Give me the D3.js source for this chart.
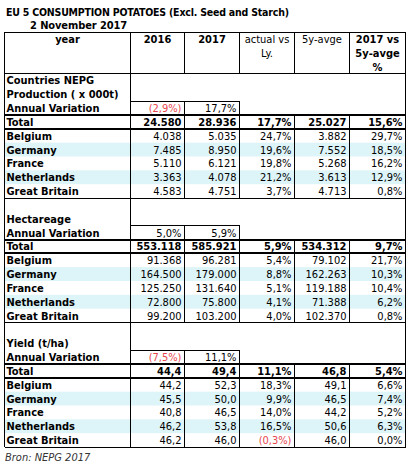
<!DOCTYPE html>
<html><head><meta charset="utf-8">
<script src="https://cdn.jsdelivr.net/npm/d3@7"></script>
<style>
html,body{margin:0;padding:0;background:#fff;}
svg{display:block;}
text{font-family:"DejaVu Sans Condensed","DejaVu Sans",sans-serif;}
</style></head>
<body>
<script>
// ---------- DATA ----------
const title = "EU 5 CONSUMPTION POTATOES (Excl. Seed and Starch)";
const subtitle = "2 November 2017";
const source = "Bron: NEPG 2017";
const headers = [["year"], ["2016"], ["2017"], ["actual vs", "Ly."], ["5y-avge"], ["2017 vs", "5y-avge", "%"]];
const headerBold = [true, true, true, false, false, true];
const countries = ["Belgium", "Germany", "France", "Netherlands", "Great Britain"];

const prodLabels = ["Countries NEPG", "Production ( x 000t)", "Annual Variation"];
const prodAnnual = [-2.9, 17.7];
const prodTotal = [24580, 28936, 17.7, 25027, 15.6];
const prod2016 = [4038, 7485, 5110, 3363, 4583];
const prod2017 = [5035, 8950, 6121, 4078, 4751];
const prodVsLy = [24.7, 19.6, 19.8, 21.2, 3.7];
const prod5y = [3882, 7552, 5268, 3613, 4713];
const prodVs5y = [29.7, 18.5, 16.2, 12.9, 0.8];

const haLabels = ["", "Hectareage", "Annual Variation"];
const haAnnual = [5.0, 5.9];
const haTotal = [553118, 585921, 5.9, 534312, 9.7];
const ha2016 = [91368, 164500, 125250, 72800, 99200];
const ha2017 = [96281, 179000, 131640, 75800, 103200];
const haVsLy = [5.4, 8.8, 5.1, 4.1, 4.0];
const ha5y = [79102, 162263, 119188, 71388, 102370];
const haVs5y = [21.7, 10.3, 10.4, 6.2, 0.8];

const yieldLabels = ["", "Yield (t/ha)", "Annual Variation"];
const yieldAnnual = [-7.5, 11.1];
const yieldTotal = [44.4, 49.4, 11.1, 46.8, 5.4];
const yield2016 = [44.2, 45.5, 40.8, 46.2, 46.2];
const yield2017 = [52.3, 50.0, 46.5, 53.8, 46.0];
const yieldVsLy = [18.3, 9.9, 14.0, 16.5, -0.3];
const yield5y = [49.1, 46.5, 44.2, 50.6, 46.0];
const yieldVs5y = [6.6, 7.4, 5.2, 6.3, 0.0];

const bandedCountries = ["Germany", "Netherlands"];

// ---------- FORMAT ----------
const loc = d3.formatLocale({decimal: ",", thousands: ".", grouping: [3], currency: ["", ""]});
const fInt = loc.format(",.0f");
const fDec = loc.format(".1f");
const fPct = v => v < 0 ? "(" + fDec(-v) + "%)" : fDec(v) + "%";

// ---------- BUILD SECTIONS ----------
function section(labels, annual, total, c16, c17, vsLy, c5y, vs5y, numFmt) {
  return {labels, annual, total, rows: countries.map((c, i) => ({name: c, vals: [c16[i], c17[i], vsLy[i], c5y[i], vs5y[i]]})), numFmt};
}
const sections = [
  section(prodLabels, prodAnnual, prodTotal, prod2016, prod2017, prodVsLy, prod5y, prodVs5y, fInt),
  section(haLabels, haAnnual, haTotal, ha2016, ha2017, haVsLy, ha5y, haVs5y, fInt),
  section(yieldLabels, yieldAnnual, yieldTotal, yield2016, yield2017, yieldVsLy, yield5y, yieldVs5y, fDec)
];
const colKinds = ["num", "num", "pct", "num", "pct"];

// ---------- LAYOUT ----------
const W = 412, H = 467;
const svg = d3.select("body").append("svg").attr("width", W).attr("height", H);
const nRows = 3 + sections.length * 9;
const y = d3.scaleLinear().domain([0, nRows]).range([32, 447]);
const colWeights = [125.5, 54.5, 55, 55, 55, 56];
const colEdges = [0].concat(Array.from(d3.cumsum(colWeights)));
const x = d3.scaleLinear().domain([0, colEdges[colEdges.length - 1]]).range([4, 405]);
const xe = i => Math.round(x(colEdges[i])) + 0.5;
const FS = 11;
const red = "#e8474f";
const band = "#ddf4f8";
const ink = "#000";

// title
svg.append("text").attr("x", 6).attr("y", 16).attr("font-size", 10.5).attr("letter-spacing", -0.2).attr("font-weight", "bold").text(title);
svg.append("text").attr("x", 30).attr("y", 29).attr("font-size", 11).attr("letter-spacing", -0.1).attr("font-weight", "bold").text(subtitle);

const gBand = svg.append("g");
const gText = svg.append("g");
const gLine = svg.append("g").attr("stroke", ink).attr("shape-rendering", "crispEdges");

function hline(x1, x2, yy, w) {
  gLine.append("line").attr("x1", x1).attr("x2", x2).attr("y1", yy).attr("y2", yy).attr("stroke-width", w || 1);
}
function vline(xx, y1, y2) {
  gLine.append("line").attr("x1", xx).attr("x2", xx).attr("y1", y1).attr("y2", y2).attr("stroke-width", 1);
}
function cellText(col, row, txt, opts) {
  opts = opts || {};
  const cy = (y(row) + y(row + 1)) / 2 + 4;
  let tx, anchor;
  if (col === 0) { tx = xe(0) + 2; anchor = "start"; }
  else { tx = xe(col + 1) - 3; anchor = "end"; }
  gText.append("text").attr("x", tx).attr("y", cy).attr("text-anchor", anchor)
    .attr("font-size", FS).attr("font-weight", opts.bold ? "bold" : "normal")
    .attr("fill", opts.color || ink).text(txt);
}

// header
headers.forEach((lines, c) => {
  lines.forEach((ln, k) => {
    gText.append("text").attr("x", (xe(c) + xe(c + 1)) / 2).attr("y", (y(k) + y(k + 1)) / 2 + 4)
      .attr("text-anchor", "middle").attr("font-size", FS)
      .attr("font-weight", headerBold[c] ? "bold" : "normal").text(ln);
  });
});
hline(xe(0), xe(6), y(0));
hline(xe(0), xe(6), y(3));
for (let c = 1; c < 6; c++) vline(xe(c), y(0), y(3));

sections.forEach((s, si) => {
  const r0 = 3 + si * 9;
  s.labels.forEach((l, k) => { if (l) cellText(0, r0 + k, l, {bold: true}); });
  // annual variation
  s.annual.forEach((v, k) => cellText(k + 1, r0 + 2, fPct(v), {color: v < 0 ? red : ink}));
  hline(xe(1), xe(3), y(r0 + 2));
  vline(xe(2), y(r0 + 2), y(r0 + 3));
  vline(xe(3), y(r0 + 2), y(r0 + 3));
  // total
  const rt = r0 + 3;
  cellText(0, rt, "Total", {bold: true});
  s.total.forEach((v, k) => cellText(k + 1, rt, colKinds[k] === "pct" ? fPct(v) : s.numFmt(v), {bold: true, color: v < 0 ? red : ink}));
  // countries
  s.rows.forEach((r, i) => {
    const rr = rt + 1 + i;
    if (bandedCountries.includes(r.name)) {
      gBand.append("rect").attr("x", xe(0)).attr("y", y(rr)).attr("width", xe(6) - xe(0)).attr("height", y(rr + 1) - y(rr)).attr("fill", band);
    }
    cellText(0, rr, r.name, {bold: true});
    r.vals.forEach((v, k) => cellText(k + 1, rr, colKinds[k] === "pct" ? fPct(v) : s.numFmt(v), {color: v < 0 ? red : ink}));
  });
  for (let c = 2; c < 6; c++) vline(xe(c), y(rt), y(rt + 6));
  hline(xe(0), xe(6), y(rt), 2);
  hline(xe(0), xe(6), y(rt + 1), 2);
  hline(xe(0), xe(6), y(rt + 6));
});
vline(xe(0), y(0), y(nRows));
vline(xe(1), y(0), y(nRows));
vline(xe(6), y(0), y(nRows));

svg.append("text").attr("x", 5).attr("y", 461).attr("font-size", 11).attr("font-style", "italic").attr("fill", "#333").text(source);
</script>
</body></html>
